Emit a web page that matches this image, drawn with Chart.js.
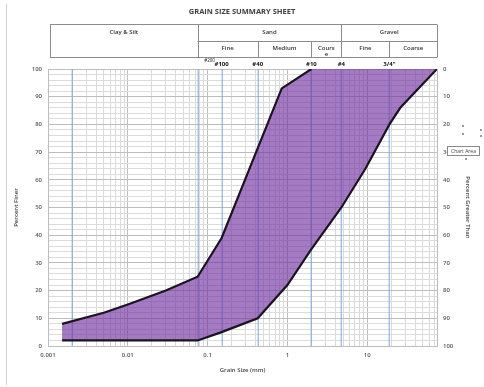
<!DOCTYPE html>
<html><head><meta charset="utf-8">
<script src="https://cdn.jsdelivr.net/npm/chart.js@4"></script>
<style>html,body{margin:0;padding:0;background:#fff}#wrap{width:484px;height:387px;position:relative}</style>
</head><body><div id="wrap"><canvas id="c" width="484" height="387"></canvas></div>
<script>
// ---- data ----
const upperSize  = [0.0015, 0.005, 0.01, 0.03, 0.075, 0.15, 0.85, 2, 75];
const upperFiner = [8, 12, 15, 20, 25, 39, 93, 100, 100];
const lowerSize  = [0.0015, 0.075, 0.15, 0.425, 1, 2, 4.75, 9.5, 19, 26, 75];
const lowerFiner = [2, 2, 5, 10, 22, 35, 50, 64, 80, 86, 100];

const xLabelValues = [0.001, 0.01, 0.1, 1, 10];
const xLabelTexts  = ['0.001', '0.01', '0.1', '1', '10'];
const sieveLines   = [0.002, 0.075, 0.15, 0.425, 2, 4.75, 19];
const sieveLabelSizes = [0.075, 0.15, 0.425, 2, 4.75, 19];
const sieveLabelTexts = ['#200', '#100', '#40', '#10', '#4', '3/4"'];

const groupNames  = ['Clay & Silt', 'Sand', 'Gravel'];
const groupBounds = [0.001, 0.075, 4.75, 75];
const subNames    = ['Fine', 'Medium', 'Coarse', 'Fine', 'Coarse'];
const subBounds   = [0.075, 0.425, 2, 4.75, 19, 75];

const X_MIN = 0.001, X_MAX = 75;
const FONT = '"Open Sans", "Liberation Sans", sans-serif';

const toPts = (xs, ys) => xs.map((x, i) => ({x: x, y: ys[i]}));
const upperPts = toPts(upperSize, upperFiner);
const lowerPts = toPts(lowerSize, lowerFiner);
const bandPts = upperPts.concat(lowerPts.slice().reverse());

// grid tick values for the log axis (1..9 per decade)
const xGridVals = [];
for (let d = -3; d <= 1; d++) {
  for (let k = 1; k <= 9; k++) {
    const v = k * Math.pow(10, d);
    if (v <= X_MAX + 1e-9) xGridVals.push(+v.toPrecision(6));
  }
}
xGridVals.push(X_MAX);

const near = (a, b) => Math.abs(a - b) / b < 1e-6;
const isDecade = v => xLabelValues.some(s => near(v, s));

const overlay = {
  id: 'overlay',
  beforeDraw(chart) {
    const c = chart.ctx;
    c.save(); c.fillStyle = '#fff'; c.fillRect(0, 0, chart.width, chart.height); c.restore();
  },
  beforeDatasetsDraw(chart) {
    const c = chart.ctx, xs = chart.scales.x, a = chart.chartArea;
    c.save();
    c.strokeStyle = 'rgba(120,162,212,0.75)'; c.lineWidth = 1.3;
    sieveLines.forEach(v => {
      const x = Math.round(xs.getPixelForValue(v)) + 0.25;
      c.beginPath(); c.moveTo(x, a.top); c.lineTo(x, a.bottom); c.stroke();
    });
    c.restore();
  },
  afterDraw(chart) {
    const c = chart.ctx, xs = chart.scales.x;
    const px = v => xs.getPixelForValue(v);
    c.save();
    // left frame line
    c.strokeStyle = '#d0d0d0'; c.lineWidth = 1;
    c.beginPath(); c.moveTo(6.5, 4); c.lineTo(6.5, 385); c.stroke();

    // header table
    const top = 24.5, mid = 41.5, bot = 57.5;
    const L = px(groupBounds[0]) + 2, R = px(groupBounds[3]);
    c.strokeStyle = '#8c8c8c'; c.lineWidth = 1;
    c.beginPath();
    c.moveTo(L, top); c.lineTo(R, top);
    c.moveTo(L, bot); c.lineTo(R, bot);
    c.moveTo(px(groupBounds[1]), mid); c.lineTo(R, mid);
    [L, px(groupBounds[1]), px(groupBounds[2]), R].forEach(x => { c.moveTo(Math.round(x) + 0.5, top); c.lineTo(Math.round(x) + 0.5, bot); });
    [subBounds[1], subBounds[2], subBounds[4]].forEach(v => { const x = Math.round(px(v)) + 0.5; c.moveTo(x, mid); c.lineTo(x, bot); });
    c.stroke();

    c.fillStyle = '#333'; c.textAlign = 'center'; c.textBaseline = 'middle';
    c.font = '600 6px ' + FONT;
    groupNames.forEach((n, i) => {
      const xl = i === 0 ? L : px(groupBounds[i]);
      c.fillText(n, (xl + px(groupBounds[i + 1])) / 2, 32);
    });
    subNames.forEach((n, i) => {
      const xc = (px(subBounds[i]) + px(subBounds[i + 1])) / 2;
      if (i === 2) { c.fillText('Cours', xc, 48); c.fillText('e', xc, 54); }
      else c.fillText(n, xc, 48);
    });

    // sieve labels
    c.fillStyle = '#111';
    sieveLabelTexts.forEach((t, i) => {
      let x = px(sieveLabelSizes[i]), y = 64.5, f = '700 6px ';
      if (i === 0) { x += 12; y = 61; f = '400 4.5px '; }
      c.font = f + FONT;
      c.fillText(t, x, y);
    });

    // Excel "Chart Area" tooltip & handles
    c.fillStyle = '#fff'; c.strokeStyle = '#8a8a8a';
    c.fillRect(447.5, 146.5, 32, 9); c.strokeRect(447.5, 146.5, 32, 9);
    c.fillStyle = '#444'; c.font = '400 5px ' + FONT;
    c.fillText('Chart Area', 463.5, 151.5);
    c.fillStyle = '#9a9a9a';
    [[463, 126], [463, 134], [481, 130], [481, 136], [466, 159]].forEach(p => c.fillRect(p[0] - 1, p[1] - 1, 2, 2));
    c.restore();
  }
};

new Chart(document.getElementById('c'), {
  type: 'line',
  data: {
    datasets: [
      { label: 'band', data: bandPts, fill: 'shape', backgroundColor: 'rgba(112,48,160,0.64)',
        borderWidth: 0, pointRadius: 0, order: 3, yAxisID: 'y' },
      { label: 'upper', data: upperPts, borderColor: '#1b1320', borderWidth: 2.2, pointRadius: 0,
        fill: false, order: 1, yAxisID: 'y',
        segment: { borderColor: ctx => ctx.p0.parsed.x >= 2 ? 'rgba(0,0,0,0)' : undefined } },
      { label: 'lower', data: lowerPts, borderColor: '#1b1320', borderWidth: 2.2, pointRadius: 0,
        fill: false, order: 1, yAxisID: 'y' }
    ]
  },
  options: {
    responsive: false, animation: false, devicePixelRatio: 1,
    layout: { padding: 0 },
    plugins: {
      legend: { display: false }, tooltip: { enabled: false },
      title: { display: true, text: 'GRAIN SIZE SUMMARY SHEET', color: '#404040',
        font: { family: FONT, size: 7.5, weight: 'bold' }, padding: { top: 7, bottom: 53 } }
    },
    scales: {
      x: {
        type: 'logarithmic', min: X_MIN, max: X_MAX,
        afterFit: s => { s.height = 41; },
        afterBuildTicks: s => { s.ticks = xGridVals.map(v => ({ value: v })); },
        ticks: { autoSkip: false, maxRotation: 0, padding: 6, color: '#555',
          font: { family: FONT, size: 6, weight: '600' },
          callback: v => { const i = xLabelValues.findIndex(s => near(v, s)); return i >= 0 ? xLabelTexts[i] : ''; } },
        grid: { drawTicks: false,
          color: ctx => { const v = ctx.tick && ctx.tick.value; return isDecade(v) ? '#bdbdbd' : '#dadada'; } },
        border: { color: '#bdbdbd' },
        title: { display: true, text: 'Grain Size (mm)', color: '#444',
          font: { family: FONT, size: 6, weight: '600' }, padding: { top: 0, bottom: 13.4 } }
      },
      y: {
        position: 'left', min: 0, max: 100,
        afterFit: s => { s.width = 48; },
        ticks: { stepSize: 2, autoSkip: false, padding: 6, color: '#555',
          font: { family: FONT, size: 6, weight: '600' },
          callback: v => (v % 10 === 0 ? v : '') },
        grid: { drawTicks: false, color: ctx => (ctx.tick && ctx.tick.value % 10 === 0 ? '#bdbdbd' : '#dcdcdc') },
        border: { color: '#bdbdbd' },
        title: { display: true, text: 'Percent Finer', color: '#444',
          font: { family: FONT, size: 6, weight: '600' }, padding: { top: 12.4, bottom: 0 } }
      },
      y2: {
        position: 'right', min: 0, max: 100, reverse: true,
        afterFit: s => { s.width = 47; },
        ticks: { stepSize: 10, padding: 6, color: '#555', font: { family: FONT, size: 6, weight: '600' } },
        grid: { display: false, drawTicks: false },
        border: { color: '#bdbdbd' },
        title: { display: true, text: 'Percent Greater Than', color: '#444',
          font: { family: FONT, size: 6, weight: '600' }, padding: { top: 12.9, bottom: 0 } }
      }
    }
  },
  plugins: [overlay]
});
</script>
</body></html>
